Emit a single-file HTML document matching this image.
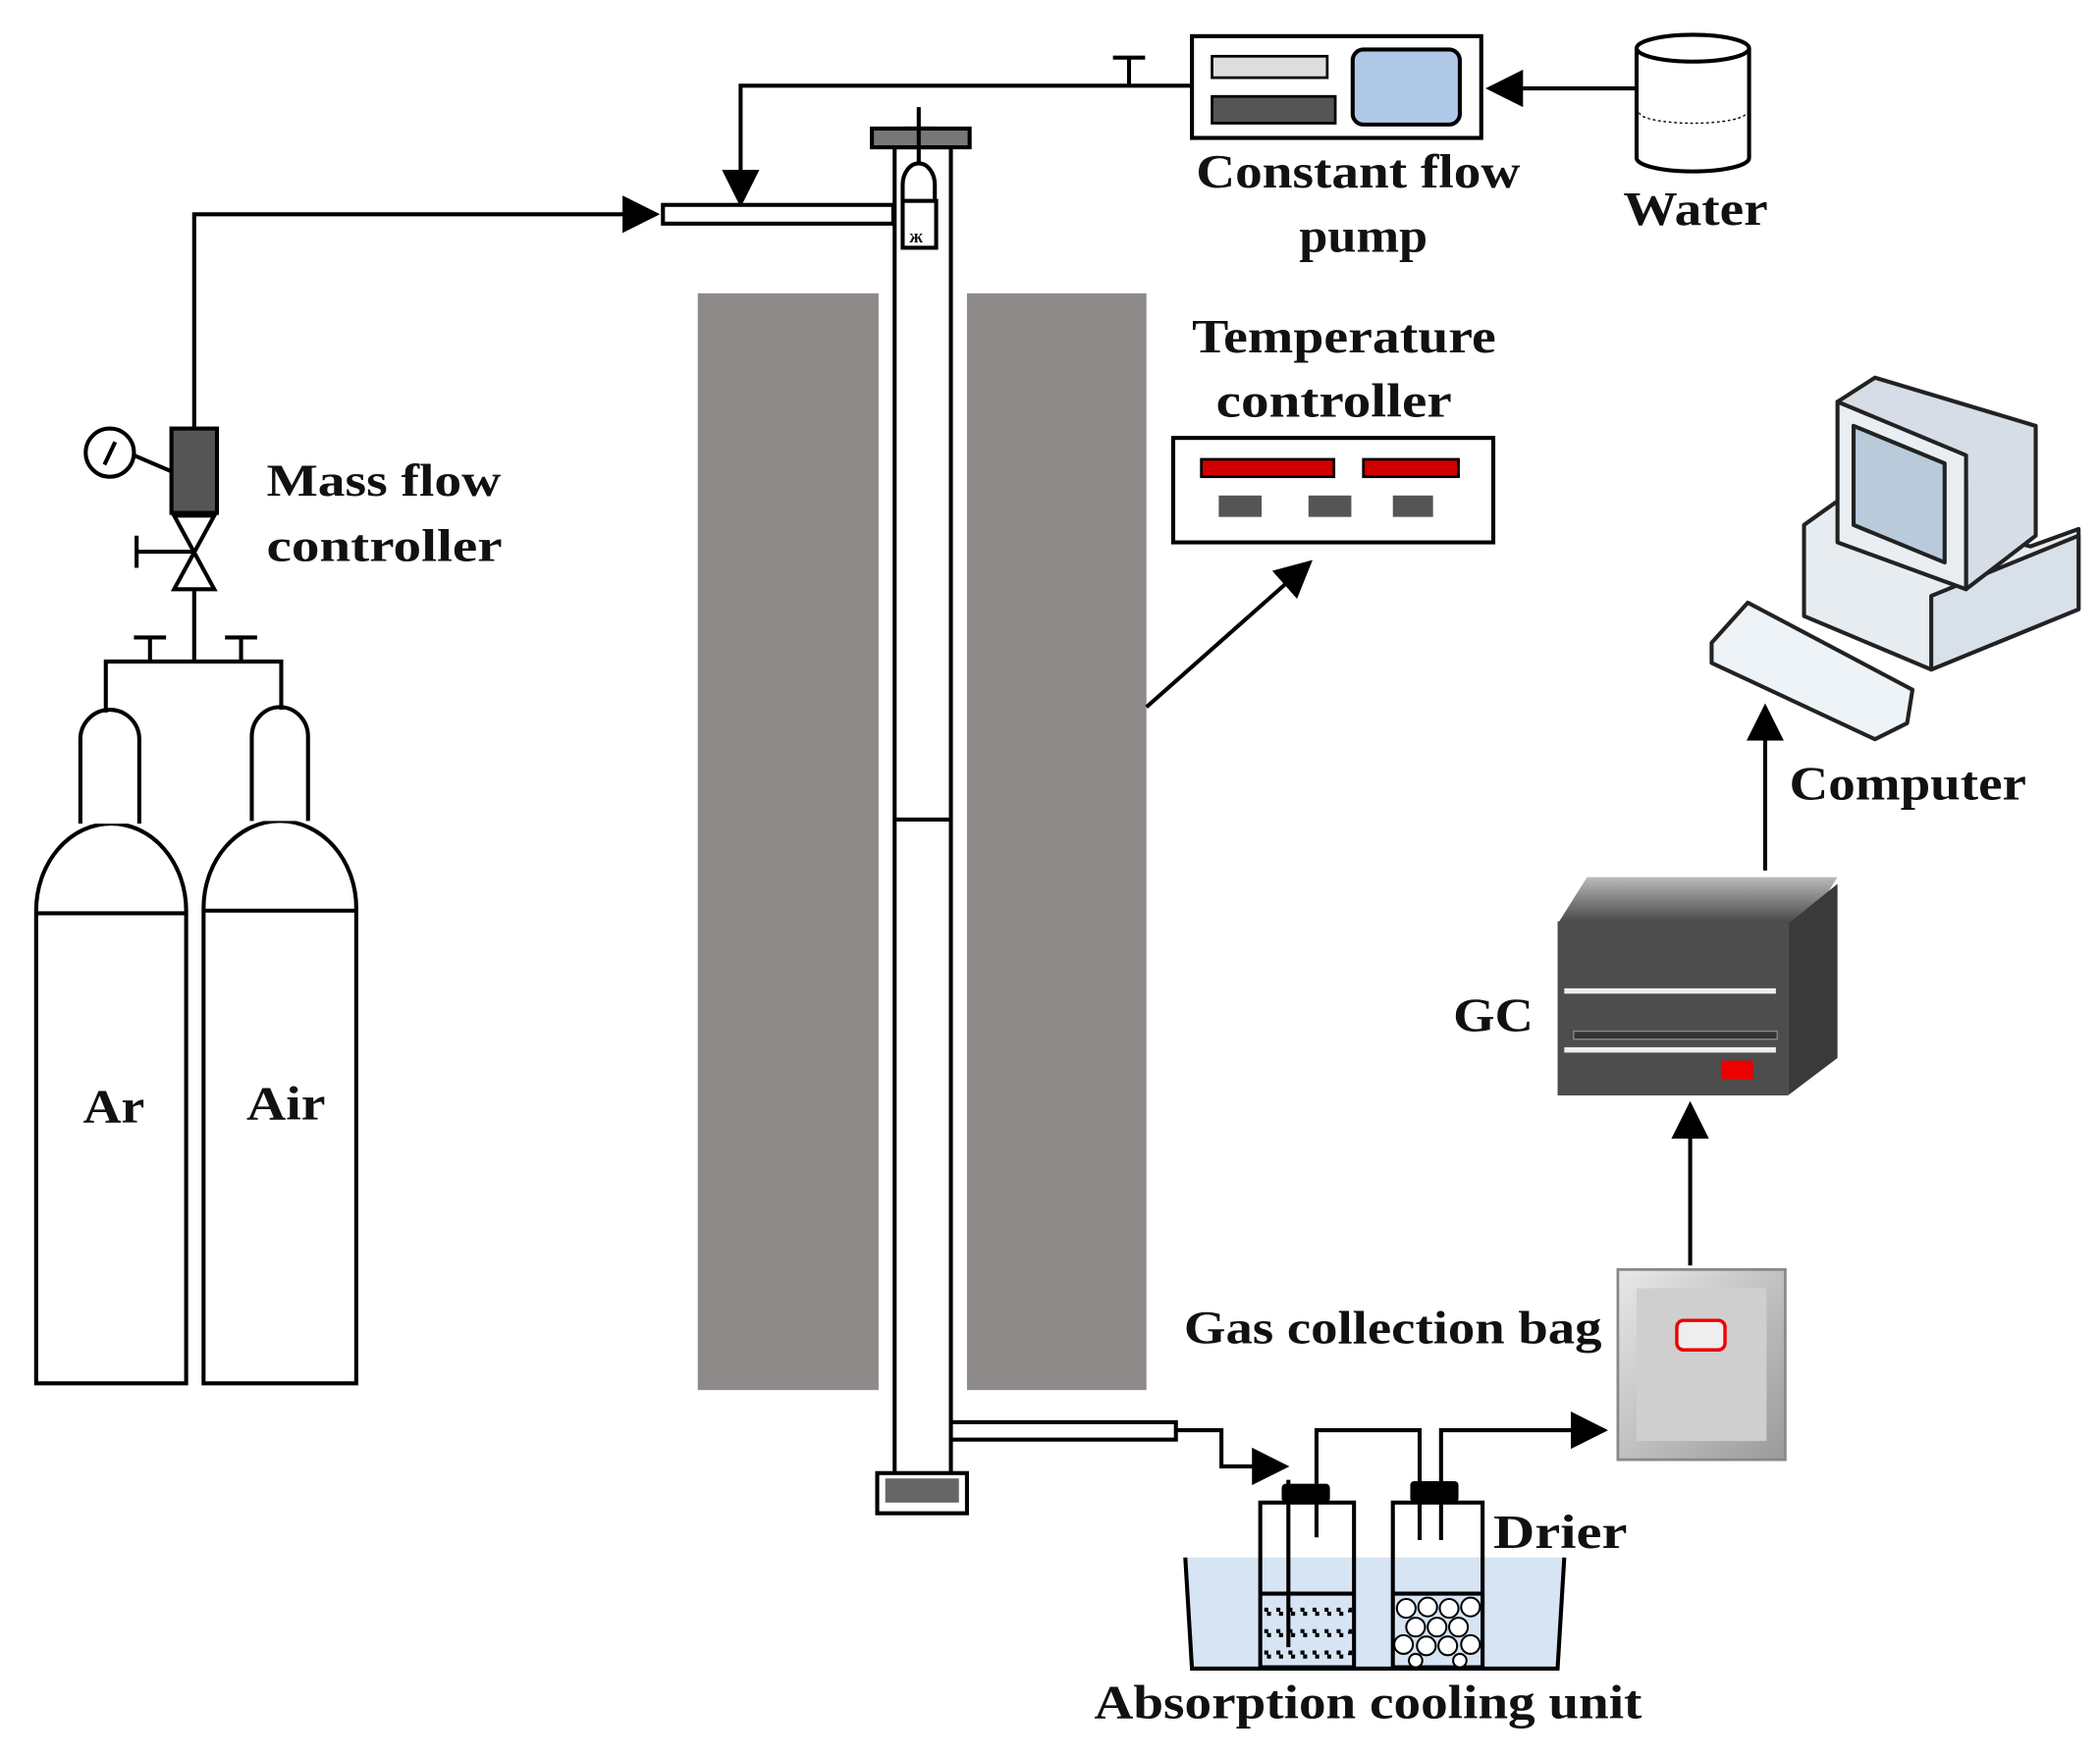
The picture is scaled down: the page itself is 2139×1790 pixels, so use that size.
<!DOCTYPE html>
<html><head><meta charset="utf-8"><style>
html,body{margin:0;padding:0;background:#fff}
svg{display:block}
text{font-family:"Liberation Serif",serif;font-weight:bold;fill:#111}
</style></head><body>
<svg width="2139" height="1790" viewBox="0 0 1568 1312" preserveAspectRatio="none" xmlns="http://www.w3.org/2000/svg">
<defs>
<marker id="a2" viewBox="0 0 10 10" refX="9" refY="5" markerWidth="28" markerHeight="28" markerUnits="userSpaceOnUse" orient="auto"><path d="M0,0L10,5L0,10z" fill="#000"/></marker>
<linearGradient id="bag" x1="0" y1="0" x2="1" y2="1"><stop offset="0" stop-color="#e8e8e8"/><stop offset="1" stop-color="#9a9a9a"/></linearGradient>
<linearGradient id="gct" x1="0" y1="0" x2="0" y2="1"><stop offset="0" stop-color="#bbb"/><stop offset="1" stop-color="#444"/></linearGradient>
</defs>
<g stroke="#000" stroke-width="3" fill="none">
<path d="M27,1033V680A56,65 0 0 1 139,680V1033Z" fill="#fff"/>
<line x1="27" y1="682" x2="139" y2="682"/>
<path d="M60,615V552A22,22 0 0 1 104,552V615" fill="#fff"/>
<path d="M152,1033V678A57,65 0 0 1 266,678V1033Z" fill="#fff"/>
<line x1="152" y1="680" x2="266" y2="680"/>
<path d="M188,613V550A21,22 0 0 1 230,550V613" fill="#fff"/>
<path d="M79,532V494H210V530"/>
<line x1="112" y1="494" x2="112" y2="476"/><line x1="100" y1="476" x2="124" y2="476"/>
<line x1="180" y1="494" x2="180" y2="476"/><line x1="168" y1="476" x2="192" y2="476"/>
<line x1="145" y1="494" x2="145" y2="440"/>
<path d="M130,385H160L130,440H160Z" fill="#fff"/>
<line x1="102" y1="412" x2="145" y2="412"/><line x1="102" y1="400" x2="102" y2="424"/>
<rect x="128" y="320" width="34" height="63" fill="#555"/>
<circle cx="82" cy="338" r="18" fill="#fff"/><line x1="78" y1="347" x2="86" y2="330"/>
<line x1="100" y1="340" x2="128" y2="352"/>
<path d="M145,320V160H490" marker-end="url(#a2)"/>
<rect x="495" y="153" width="172" height="14" fill="#fff"/>
<path d="M890,64H553V152" marker-end="url(#a2)"/>
<line x1="843" y1="64" x2="843" y2="43"/><line x1="831" y1="43" x2="855" y2="43"/>
<rect x="890" y="27" width="216" height="76" fill="#fff"/>
<path d="M1222,66H1112" marker-end="url(#a2)"/>
</g>
<rect x="521" y="219" width="135" height="819" fill="#8f8a8a"/>
<rect x="722" y="219" width="134" height="819" fill="#8f8a8a"/>
<g stroke="#000" stroke-width="3">
<rect x="668" y="110" width="42" height="995" fill="#fff"/>
<line x1="668" y1="612" x2="710" y2="612"/>
<rect x="651" y="96" width="73" height="14" fill="#777"/>
<rect x="655" y="1100" width="67" height="30" fill="#fff"/>
<rect x="661" y="1104" width="55" height="18" fill="#666" stroke="none"/>
<line x1="686" y1="80" x2="686" y2="150"/>
<line x1="674" y1="96" x2="698" y2="96"/>
<path d="M674,150V138A12,16 0 0 1 698,138V150" fill="#fff"/>
<rect x="674" y="150" width="25" height="35" fill="#fff"/>
</g>
<text x="679" y="181" font-size="14">ж</text>
<rect x="905" y="42" width="86" height="16" fill="#ddd" stroke="#000" stroke-width="2"/>
<rect x="905" y="72" width="92" height="20" fill="#555" stroke="#000" stroke-width="2"/>
<rect x="1010" y="37" width="80" height="56" rx="8" fill="#b0c8e8" stroke="#000" stroke-width="3"/>
<path d="M1222,36V118A42,10 0 0 0 1306,118V36" fill="#fff" stroke="#000" stroke-width="3"/>
<ellipse cx="1264" cy="36" rx="42" ry="10" fill="#fff" stroke="#000" stroke-width="3"/>
<path d="M1224,84A40,8 0 0 0 1304,84" fill="none" stroke="#000" stroke-width="1" stroke-dasharray="2,2"/>
<rect x="876" y="327" width="239" height="78" fill="#fff" stroke="#000" stroke-width="3"/>
<rect x="897" y="343" width="99" height="13" fill="#d10000" stroke="#000" stroke-width="2"/>
<rect x="1018" y="343" width="71" height="13" fill="#d10000" stroke="#000" stroke-width="2"/>
<rect x="910" y="370" width="32" height="16" fill="#555"/>
<rect x="977" y="370" width="32" height="16" fill="#555"/>
<rect x="1040" y="370" width="30" height="16" fill="#555"/>
<line x1="856" y1="528" x2="978" y2="420" stroke="#000" stroke-width="3" marker-end="url(#a2)"/>
<g stroke="#222" stroke-width="3" stroke-linejoin="round">
<path d="M1347,392L1375,372L1516,408L1552,395V455L1442,500L1347,460Z" fill="#e6ecf0"/>
<path d="M1442,445L1552,400V455L1442,500Z" fill="#d8e0ea"/>
<path d="M1372,300L1400,282L1520,318V400L1468,440V360Z" fill="#d6dde6"/>
<path d="M1372,300L1468,340V440L1372,405Z" fill="#e8eef2"/>
<path d="M1384,318L1452,346V420L1384,392Z" fill="#b9cadb"/>
<path d="M1278,480L1305,450L1428,515L1424,540L1400,552L1278,495Z" fill="#eef3f7"/>
</g>
<line x1="1318" y1="650" x2="1318" y2="528" stroke="#000" stroke-width="3" marker-end="url(#a2)"/>
<path d="M1163,690L1185,655H1372L1350,690Z" fill="url(#gct)"/>
<path d="M1335,690L1372,660V790L1335,818Z" fill="#3a3a3a"/>
<rect x="1163" y="688" width="172" height="130" fill="#4d4d4d"/>
<rect x="1168" y="738" width="158" height="4" fill="#eee"/>
<rect x="1175" y="770" width="152" height="6" fill="#333" stroke="#888" stroke-width="1"/>
<rect x="1168" y="782" width="158" height="4" fill="#eee"/>
<rect x="1285" y="792" width="24" height="14" fill="#e00"/>
<line x1="1262" y1="945" x2="1262" y2="825" stroke="#000" stroke-width="3" marker-end="url(#a2)"/>
<rect x="1208" y="948" width="125" height="142" fill="url(#bag)" stroke="#888" stroke-width="2"/>
<rect x="1222" y="962" width="97" height="114" fill="#cfcfcf"/>
<rect x="1252" y="986" width="36" height="22" rx="5" fill="#eee" stroke="#e00" stroke-width="2.5"/>
<path d="M885,1163H1168L1163,1246H890Z" fill="#d6e4f4"/>
<g stroke="#000" stroke-width="3" fill="none">
<path d="M885,1163L890,1246H1163L1168,1163"/>
<rect x="710" y="1062" width="168" height="13" fill="#fff"/>
<path d="M878,1068H912V1095H960" marker-end="url(#a2)"/>
<rect x="941" y="1122" width="70" height="123"/>
<line x1="941" y1="1190" x2="1011" y2="1190"/>
<rect x="1040" y="1122" width="67" height="123"/>
<line x1="1040" y1="1190" x2="1107" y2="1190"/>
<line x1="962" y1="1105" x2="962" y2="1230"/>
<line x1="983" y1="1120" x2="983" y2="1148"/>
<path d="M983,1108V1068H1060V1150"/>
<line x1="1076" y1="1120" x2="1076" y2="1150"/>
<path d="M1076,1108V1068H1198" marker-end="url(#a2)"/>
</g>
<rect x="957" y="1108" width="36" height="14" rx="3" fill="#000"/>
<rect x="1053" y="1106" width="36" height="16" rx="3" fill="#000"/>
<rect x="944" y="1202" width="64" height="3" fill="none" stroke="#000" stroke-width="3" stroke-dasharray="3,6"/>
<rect x="944" y="1218" width="64" height="3" fill="none" stroke="#000" stroke-width="3" stroke-dasharray="3,6"/>
<rect x="944" y="1234" width="64" height="3" fill="none" stroke="#000" stroke-width="3" stroke-dasharray="3,6"/>
<g fill="#fff" stroke="#000" stroke-width="1.5">
<circle cx="1050" cy="1201" r="7"/><circle cx="1066" cy="1200" r="7"/><circle cx="1082" cy="1201" r="7"/><circle cx="1098" cy="1200" r="7"/>
<circle cx="1057" cy="1215" r="7"/><circle cx="1073" cy="1215" r="7"/><circle cx="1089" cy="1215" r="7"/><circle cx="1048" cy="1228" r="7"/>
<circle cx="1065" cy="1229" r="7"/><circle cx="1081" cy="1229" r="7"/><circle cx="1098" cy="1228" r="7"/><circle cx="1057" cy="1240" r="5"/><circle cx="1090" cy="1240" r="5"/>
</g>
<text x="893" y="140" font-size="36" textLength="242" lengthAdjust="spacingAndGlyphs">Constant flow</text>
<text x="970" y="188" font-size="36" textLength="96" lengthAdjust="spacingAndGlyphs">pump</text>
<text x="1212" y="168" font-size="36" textLength="108" lengthAdjust="spacingAndGlyphs">Water</text>
<text x="890" y="263" font-size="36" textLength="227" lengthAdjust="spacingAndGlyphs">Temperature</text>
<text x="908" y="311" font-size="36" textLength="176" lengthAdjust="spacingAndGlyphs">controller</text>
<text x="199" y="370" font-size="34" textLength="175" lengthAdjust="spacingAndGlyphs">Mass flow</text>
<text x="199" y="419" font-size="34" textLength="176" lengthAdjust="spacingAndGlyphs">controller</text>
<text x="62" y="838" font-size="36" textLength="46" lengthAdjust="spacingAndGlyphs">Ar</text>
<text x="184" y="836" font-size="36" textLength="59" lengthAdjust="spacingAndGlyphs">Air</text>
<text x="1336" y="597" font-size="36" textLength="177" lengthAdjust="spacingAndGlyphs">Computer</text>
<text x="1085" y="770" font-size="36" textLength="60" lengthAdjust="spacingAndGlyphs">GC</text>
<text x="884" y="1003" font-size="35" textLength="312" lengthAdjust="spacingAndGlyphs">Gas collection bag</text>
<text x="1115" y="1156" font-size="36" textLength="100" lengthAdjust="spacingAndGlyphs">Drier</text>
<text x="817" y="1283" font-size="36" textLength="409" lengthAdjust="spacingAndGlyphs">Absorption cooling unit</text>
</svg>
</body></html>
